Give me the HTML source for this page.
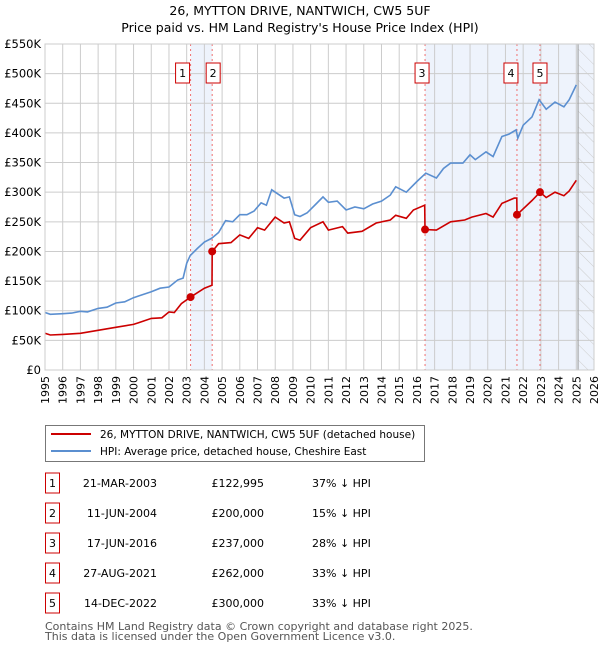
<!DOCTYPE html>
<html><head><meta charset="utf-8">
<style>
body{margin:0;background:#fff;width:600px;height:650px;overflow:hidden;font-family:"DejaVu Sans","Liberation Sans",sans-serif;}
svg text{font-family:"DejaVu Sans","Liberation Sans",sans-serif;}
</style></head>
<body>
<svg id="chart" width="600" height="650" viewBox="0 0 600 650" xmlns="http://www.w3.org/2000/svg">
<defs>
<pattern id="hatch" patternUnits="userSpaceOnUse" width="11" height="11" patternTransform="rotate(-45)">
<line x1="0" y1="0" x2="0" y2="11" stroke="#ccc" stroke-width="1"/>
</pattern>
</defs>
<text x="300" y="15" text-anchor="middle" font-size="12.5">26, MYTTON DRIVE, NANTWICH, CW5 5UF</text>
<text x="300" y="32" text-anchor="middle" font-size="12.5">Price paid vs. HM Land Registry's House Price Index (HPI)</text>
<g id="plot"></g>
<rect x="45.5" y="425.5" width="379" height="36" fill="#fff" stroke="#777"/>
<line x1="51" y1="434" x2="91" y2="434" stroke="#cc0000" stroke-width="2"/>
<text x="100" y="438" font-size="10.5">26, MYTTON DRIVE, NANTWICH, CW5 5UF (detached house)</text>
<line x1="51" y1="451" x2="91" y2="451" stroke="#5b8fd0" stroke-width="2"/>
<text x="100" y="455" font-size="10.5">HPI: Average price, detached house, Cheshire East</text>
<g id="table" font-size="11"></g>
<text x="45" y="630" font-size="11" fill="#555">Contains HM Land Registry data © Crown copyright and database right 2025.</text>
<text x="45" y="640" font-size="11" fill="#555">This data is licensed under the Open Government Licence v3.0.</text>
</svg>
<script>
const yTicks=[0,50,100,150,200,250,300,350,400,450,500,550];
const yTickLabels=["£0","£50K","£100K","£150K","£200K","£250K","£300K","£350K","£400K","£450K","£500K","£550K"];
const xYears=[1995,1996,1997,1998,1999,2000,2001,2002,2003,2004,2005,2006,2007,2008,2009,2010,2011,2012,2013,2014,2015,2016,2017,2018,2019,2020,2021,2022,2023,2024,2025,2026];
const hpiT=[1995,1995.3,1996,1996.5,1997,1997.4,1998,1998.5,1999,1999.5,2000,2000.3,2001,2001.5,2002,2002.5,2002.8,2003,2003.2,2003.6,2004,2004.4,2004.8,2005.2,2005.6,2006,2006.4,2006.8,2007.2,2007.5,2007.8,2008.2,2008.5,2008.8,2009.1,2009.4,2009.8,2010.3,2010.7,2011,2011.5,2012,2012.5,2013,2013.5,2014,2014.5,2014.8,2015.4,2016,2016.5,2017.1,2017.5,2017.9,2018.6,2019,2019.3,2019.9,2020.3,2020.8,2021.2,2021.6,2021.7,2022,2022.5,2022.9,2023.3,2023.8,2024.3,2024.6,2025.0];
const hpiV=[97,94,95,96,99,98,104,106,113,115,122,125,132,138,140,152,155,180,193,205,216,222,232,252,250,262,262,268,282,278,304,296,290,292,262,259,265,280,292,283,285,270,275,272,280,285,295,309,300,318,332,324,340,349,349,363,355,368,360,394,398,405,391,413,427,456,440,452,444,456,481];
const ppT=[1995,1995.3,1996,1997,1998,1999,2000,2000.3,2001,2001.6,2002,2002.3,2002.7,2003.22,2004,2004.43,2004.44,2004.8,2005.5,2006,2006.5,2007,2007.4,2008,2008.5,2008.8,2009.1,2009.4,2010,2010.7,2011,2011.8,2012.1,2012.9,2013.7,2014.5,2014.8,2015.4,2015.8,2016.44,2016.46,2017.1,2017.9,2018.7,2019.1,2019.9,2020.3,2020.8,2021.5,2021.64,2021.65,2022.5,2022.95,2023.3,2023.8,2024.3,2024.6,2025.0];
const ppV=[62,59,60,62,67,72,77,80,87,88,98,97,112,123,138,143,200,213,215,228,222,240,236,258,248,250,222,219,240,250,236,242,231,234,248,253,261,256,270,278,237,236,250,253,258,264,258,281,290,290,262,286,300,291,300,294,302,320];
const saleT=[2003.22,2004.44,2016.46,2021.65,2022.95];
const saleV=[122.995,200,237,262,300];
const saleLabels=["1","2","3","4","5"];
const saleDates=["21-MAR-2003","11-JUN-2004","17-JUN-2016","27-AUG-2021","14-DEC-2022"];
const salePrices=["£122,995","£200,000","£237,000","£262,000","£300,000"];
const saleHpi=["37% ↓ HPI","15% ↓ HPI","28% ↓ HPI","33% ↓ HPI","33% ↓ HPI"];

const L=45,R=594,T=44,B=370,X0=1995,X1=2026,YMAX=550;
const sx=t=>L+(t-X0)*(R-L)/(X1-X0);
const sy=v=>B-v*(B-T)/YMAX;
const NS="http://www.w3.org/2000/svg";
function mk(tag,attrs,parent){const e=document.createElementNS(NS,tag);for(const k in attrs)e.setAttribute(k,attrs[k]);parent.appendChild(e);return e;}
const plot=document.getElementById('plot');
let s1=mk('rect',{x:sx(saleT[0]),y:T,width:sx(saleT[1])-sx(saleT[0]),height:B-T,fill:'#eef3fc'},plot);


let s2=mk('rect',{x:sx(saleT[2]),y:T,width:R-sx(saleT[2]),height:B-T,fill:'#eef3fc'},plot);


const hx=sx(2025.1);
let hz=mk('rect',{x:hx,y:T,width:R-hx,height:B-T,fill:'url(#hatch)'},plot);


xYears.forEach(y=>{mk('line',{x1:sx(y),x2:sx(y),y1:T,y2:B,stroke:'#ccc','stroke-width':1},plot);
 let t=mk('text',{x:0,y:0,'font-size':11,'text-anchor':'end',transform:`translate(${sx(y)+4},${B+6}) rotate(-90)`},plot);t.textContent=y;
 
 });
yTicks.forEach((v,i)=>{mk('line',{x1:L,x2:R,y1:sy(v),y2:sy(v),stroke:'#ccc','stroke-width':1},plot);
 let t=mk('text',{x:L-4,y:sy(v)+4,'font-size':11.5,'text-anchor':'end'},plot);t.textContent=yTickLabels[i];
 
 });
mk('line',{x1:hx,x2:hx,y1:T,y2:B,stroke:'#999','stroke-width':1},plot);
saleT.forEach((t,i)=>{let l=mk('line',{x1:sx(t),x2:sx(t),y1:T,y2:B,stroke:'#f07070','stroke-width':1,'stroke-dasharray':'2,3'},plot);
 
 });
const pts=(ts,vs)=>ts.map((t,i)=>sx(t).toFixed(1)+','+sy(vs[i]).toFixed(1)).join(' ');
let hl=mk('polyline',{points:pts(hpiT,hpiV),fill:'none',stroke:'#5b8fd0','stroke-width':1.6},plot);


let pl=mk('polyline',{points:pts(ppT,ppV),fill:'none',stroke:'#cc0000','stroke-width':1.6},plot);


saleT.forEach((t,i)=>{let c=mk('circle',{cx:sx(t),cy:sy(saleV[i]),r:4,fill:'#cc0000'},plot);
 
 
 let bx=sx(t)-7;
 if(i==0)bx=sx(t)-15; if(i==1)bx=sx(t)-6; if(i==3)bx=sx(t)-13; if(i==4)bx=sx(t)-7;
 if(i==2)bx=sx(t)-10;
 let r=mk('rect',{x:bx,y:63,width:14,height:20,fill:'#fff',stroke:'#cc0000'},plot);
 
 
 let tx=mk('text',{x:bx+7,y:77,'font-size':11,'text-anchor':'middle'},plot);tx.textContent=saleLabels[i];});
mk('rect',{x:L,y:T,width:R-L,height:B-T,fill:'none',stroke:'#ccc'},plot);
const tb=document.getElementById('table');
saleT.forEach((t,i)=>{const cy=483+i*30;
 let r=mk('rect',{x:45.5,y:cy-10,width:14,height:20,fill:'#fff',stroke:'#cc0000'},tb);
 
 
 let a=mk('text',{x:52.5,y:cy+4,'text-anchor':'middle'},tb);a.textContent=saleLabels[i];
 let d=mk('text',{x:157,y:cy+4,'text-anchor':'end'},tb);d.textContent=saleDates[i];
 
 
 let p=mk('text',{x:264,y:cy+4,'text-anchor':'end'},tb);p.textContent=salePrices[i];
 
 
 let h=mk('text',{x:312,y:cy+4},tb);h.textContent=saleHpi[i];
 
 });
</script>
</body></html>
